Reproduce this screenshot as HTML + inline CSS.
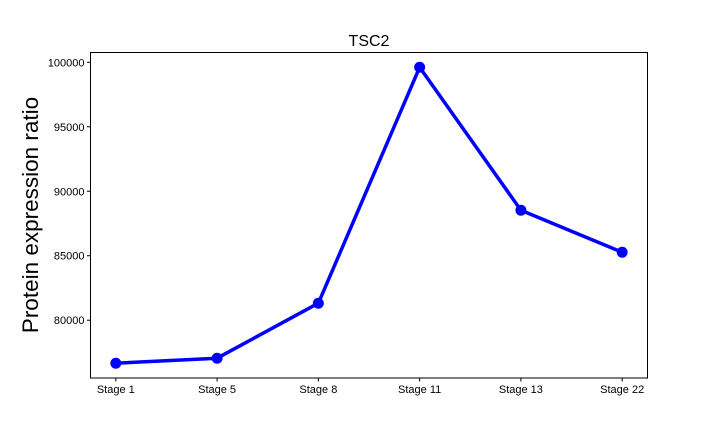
<!DOCTYPE html>
<html><head><meta charset="utf-8"><style>
html,body{margin:0;padding:0;background:#fff;}
svg{display:block;font-family:"Liberation Sans","DejaVu Sans",sans-serif;}
</style></head><body>
<svg id="chart" width="720" height="432">
<text x="369" y="46" text-anchor="middle" font-size="16">TSC2</text>
<text transform="translate(38,215) rotate(-90)" text-anchor="middle" font-size="22.5">Protein expression ratio</text>
<g id="ticks"></g>
<g id="marks"></g>
<rect x="90.5" y="52.5" width="557" height="325.5" fill="none" stroke="#000" stroke-width="1"/>
</svg>
<script>
const categories = ["Stage 1","Stage 5","Stage 8","Stage 11","Stage 13","Stage 22"];
const values = [76667, 77054, 81318, 99612, 88527, 85271];
const yTicks = [80000, 85000, 90000, 95000, 100000];

const L=90.5,R=647.5,T=52.5,B=378;
const NS="http://www.w3.org/2000/svg";
const vmin=Math.min(...values),vmax=Math.max(...values),pad=(vmax-vmin)*0.05;
const y0=vmin-pad,y1=vmax+pad;
const n=categories.length,x0=-0.25,x1=n-1+0.25;
const xs=i=>L+(i-x0)/(x1-x0)*(R-L);
const ys=v=>B-(v-y0)/(y1-y0)*(B-T);
const ticks=document.getElementById('ticks');
const marks=document.getElementById('marks');
function mk(tag,attrs,parent){const e=document.createElementNS(NS,tag);for(const k in attrs)e.setAttribute(k,attrs[k]);parent.appendChild(e);return e;}
yTicks.forEach(v=>{
  const y=ys(v);
  const l=mk('line',{x1:L-3.5,x2:L,y1:y,y2:y,stroke:'#000'},ticks);
  
  
  const t=mk('text',{x:L-6,y:y+4,'text-anchor':'end','font-size':'11'},ticks);
  t.textContent=v;
  
  
});
categories.forEach((c,i)=>{
  const x=xs(i);
  const l=mk('line',{x1:x,x2:x,y1:B,y2:B+3.5,stroke:'#000'},ticks);
  
  
  const t=mk('text',{x:x,y:B+15,'text-anchor':'middle','font-size':'11'},ticks);
  t.textContent=c;
  
  
});
const pts=values.map((v,i)=>xs(i)+','+ys(v)).join(' ');
const line=mk('polyline',{points:pts,fill:'none',stroke:'#0000ff','stroke-width':3.5,'stroke-linejoin':'round'},marks);


values.forEach((v,i)=>{
  const c=mk('circle',{cx:xs(i),cy:ys(v),r:5.5,fill:'#0000ff'},marks);
  
  
});
</script>
</body></html>
